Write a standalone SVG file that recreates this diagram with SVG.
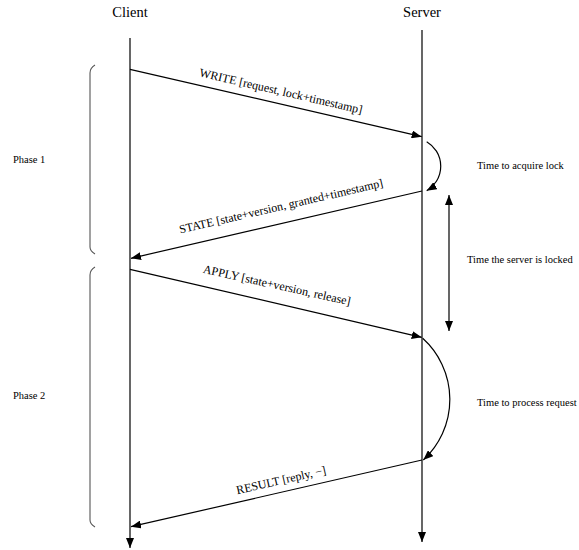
<svg xmlns="http://www.w3.org/2000/svg" width="579" height="550" viewBox="0 0 579 550">
<style>
text{font-family:"Liberation Serif","Times New Roman",serif;fill:#000}
.title{font-size:14.5px;text-anchor:middle}
.lbl{font-size:12px;text-anchor:middle}
.side{font-size:10.5px}
.ln{stroke:#000;stroke-width:1.2;fill:none}
.brace{stroke:#555;stroke-width:1.1;fill:none}
</style>
<defs>
<marker id="ah" viewBox="0 0 10 8" refX="10" refY="4" markerWidth="10" markerHeight="8" markerUnits="userSpaceOnUse" orient="auto-start-reverse">
<path d="M0,0 L10,4 L0,8 Z" fill="#000"/>
</marker>
</defs>
<rect width="579" height="550" fill="#fff"/>
<g id="client">
<text class="title" x="130" y="16.5">Client</text>
<line class="ln" x1="130" y1="38" x2="130" y2="548" marker-end="url(#ah)"/>
</g>
<g id="server">
<text class="title" x="422" y="16.5">Server</text>
<line class="ln" x1="422" y1="30" x2="422" y2="542" marker-end="url(#ah)"/>
</g>
<g id="phase1">
<path class="brace" d="M95,65 Q90,68 90,73 L90,247 Q90,251 95,254"/>
<text class="side" x="13" y="163">Phase 1</text>
</g>
<g id="phase2">
<path class="brace" d="M95,267 Q90,270 90,275 L90,520 Q90,524 95,527"/>
<text class="side" x="13" y="399">Phase 2</text>
</g>
<g id="acquire">
<path class="ln" d="M426.7,141.7 A28.4,28.4 0 0 1 426.7,190.7" marker-end="url(#ah)"/>
<text class="side" x="477" y="169">Time to acquire lock</text>
</g>
<g id="locked">
<line class="ln" x1="449" y1="195" x2="449" y2="331" marker-start="url(#ah)" marker-end="url(#ah)"/>
<text class="side" x="467" y="263">Time the server is locked</text>
</g>
<g id="process">
<path class="ln" d="M422.7,338.3 A82.4,82.4 0 0 1 423.3,460" marker-end="url(#ah)"/>
<text class="side" x="477" y="406">Time to process request</text>
</g>
<g id="connectors">
<line class="ln" x1="130" y1="69.3" x2="421.7" y2="136.7" marker-end="url(#ah)"/>
<text class="lbl" x="280" y="95" transform="rotate(13.05 280 95)">WRITE [request, lock+timestamp]</text>
<line class="ln" x1="422" y1="191" x2="131" y2="258.3" marker-end="url(#ah)"/>
<text class="lbl" x="282" y="210" transform="rotate(-13 282 210)">STATE [state+version, granted+timestamp]</text>
<line class="ln" x1="130" y1="269.3" x2="421.7" y2="337.3" marker-end="url(#ah)"/>
<text class="lbl" x="276" y="289" transform="rotate(12.5 276 289)">APPLY [state+version, release]</text>
<line class="ln" x1="422" y1="460" x2="131" y2="526.7" marker-end="url(#ah)"/>
<text class="lbl" x="282" y="484" transform="rotate(-12.9 282 484)">RESULT [reply, −]</text>
</g>
</svg>
